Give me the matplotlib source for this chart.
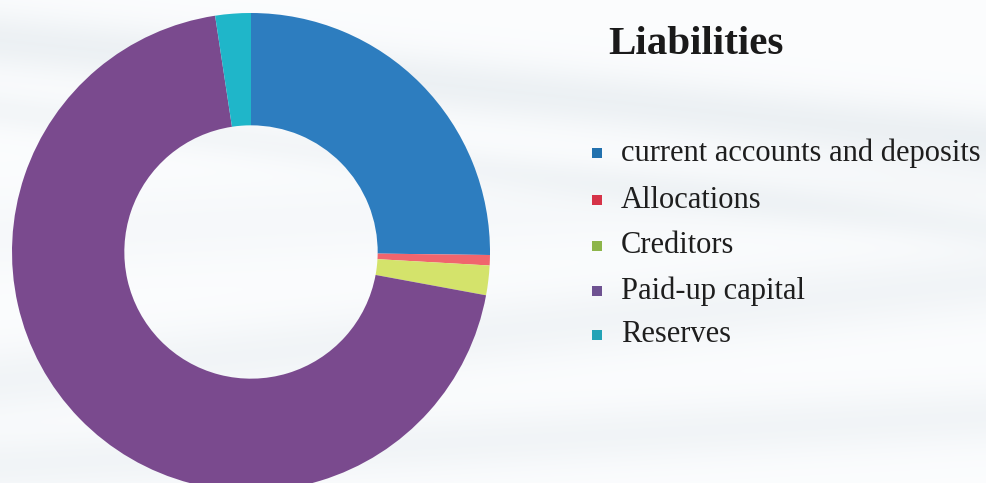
import numpy as np
import matplotlib
matplotlib.use("Agg")
import matplotlib.pyplot as plt

# Liabilities composition (percent of total)
categories = ["current accounts and deposits", "Allocations", "Creditors",
              "Paid-up capital", "Reserves"]
shares = [25.2, 0.7, 2.0, 69.7, 2.4]
colors = ["#2D7DBF", "#F0656D", "#D4E36B", "#7A4A8E", "#1FB6C9"]
marker_colors = ["#2271AE", "#D63348", "#8DB54A", "#6E5291", "#23A3B6"]
title = "Liabilities"

W, H, DPI = 987, 483, 100
fig = plt.figure(figsize=(W / DPI, H / DPI), dpi=DPI)

# faint swirling backdrop
bg = fig.add_axes([0, 0, 1, 1], zorder=0)
yy, xx = np.mgrid[0:H, 0:W].astype(float)
shade = np.zeros_like(xx)
bands = [
    (lambda x: 330 - 0.10 * (x - 500), 35, 0.30),
    (lambda x: 440 - 0.05 * (x - 500), 30, 0.30),
    (lambda x: 40 + 0.10 * x, 30, 0.45),
    (lambda x: 110 + 0.12 * x, 20, 0.25),
    (lambda x: 200 - 0.05 * (x - 700), 40, 0.15),
]
for f, w, a in bands:
    shade += a * np.exp(-((yy - f(xx)) / w) ** 2)
shade = np.clip(shade, 0, 1)
base = np.array([0.985, 0.99, 0.995])
tint = np.array([0.86, 0.89, 0.91])
img = base[None, None, :] * (1 - shade[..., None]) + tint[None, None, :] * shade[..., None]
bg.imshow(img, extent=[0, W, H, 0], aspect="auto", interpolation="bilinear")
bg.set_axis_off()

# donut
cx, cy, r = 251, 252, 239
ax = fig.add_axes([(cx - r) / W, (H - cy - r) / H, 2 * r / W, 2 * r / H], zorder=1)
ax.pie(shares, colors=colors, startangle=90, counterclock=False, radius=1.0,
       wedgeprops=dict(width=0.47, linewidth=0))
ax.set_xlim(-1, 1)
ax.set_ylim(-1, 1)
ax.set_axis_off()

# title and legend
serif = ["Liberation Serif", "DejaVu Serif"]
fig.text(608 / W, 1 - 45 / H, title, fontsize=29.5, fontweight="bold",
         family=serif, color="#1a1a1a", va="center", ha="left", zorder=3)

row_y = [153, 200, 246, 291, 335]
for name, col, y in zip(categories, marker_colors, row_y):
    fig.patches.append(plt.Rectangle((592 / W, 1 - (y + 5) / H), 10 / W, 10 / H,
                                     transform=fig.transFigure, facecolor=col,
                                     edgecolor="none", zorder=3))
    fig.text(621 / W, 1 - y / H, name, fontsize=22, family=serif,
             color="#1e1e1e", va="center", ha="left", zorder=3)

fig.savefig("out.png", dpi=DPI)
